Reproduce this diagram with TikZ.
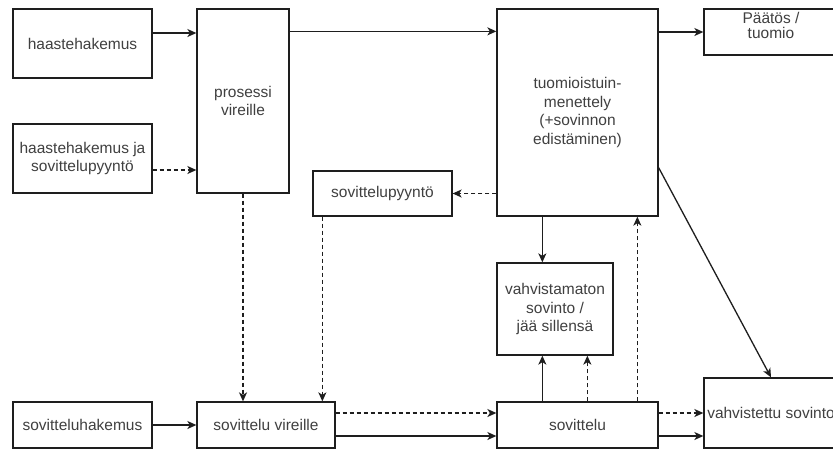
\documentclass[tikz,border=0pt]{standalone}
\usepackage{fontspec}
\setmainfont{Liberation Sans}
\usetikzlibrary{arrows.meta,calc}
\definecolor{txt}{HTML}{404040}
\definecolor{ln}{HTML}{1E1E1E}
\tikzset{
  box/.style={draw=ln, line width=1.3pt, rectangle, inner sep=0pt, align=center,
    text=txt, font=\fontsize{15.5}{18.5}\selectfont},
  conn/.style={draw=ln, line width=1.3pt, -{Stealth[length=9pt,width=8pt,inset=2.5pt]}},
  dconn/.style={conn, dash pattern=on 4pt off 3pt},
}
\begin{document}
\begin{tikzpicture}[x=1pt,y=-1pt]
\useasboundingbox (0,0) rectangle (833,448);
\clip (0,0) rectangle (833,448);
\fill[white] (0,0) rectangle (833,448);
% boxes
\node[box, minimum width=139pt, minimum height=69pt] (hh) at (82.5,43.5) {haastehakemus};
\node[box, minimum width=139pt, minimum height=69pt] (hs) at (82.5,158.5) {haastehakemus ja\\sovittelupyyntö};
\node[box, minimum width=92pt, minimum height=184pt] (pv) at (243,101) {prosessi\\vireille};
\node[box, minimum width=161pt, minimum height=207pt] (tm) at (577.5,112.5) {tuomioistuin-\\menettely\\(+sovinnon\\edistäminen)};
\node[box, minimum width=134pt, minimum height=46pt] (pt) at (771,32) {\parbox[c][40pt][t]{120pt}{\centering\fontsize{15.5}{15}\selectfont Päätös /\\ tuomio}};
\node[box, minimum width=139pt, minimum height=45pt] (sp) at (382.5,193.5) {sovittelupyyntö};
\node[box, minimum width=116pt, minimum height=92pt] (vm) at (555,309) {vahvistamaton\\sovinto /\\jää sillensä};
\node[box, minimum width=161pt, minimum height=46pt] (sv) at (577.5,425) {sovittelu};
\node[box, minimum width=134pt, minimum height=70pt] (vs) at (771,413) {vahvistettu sovinto};
\node[box, minimum width=139pt, minimum height=46pt] (shk) at (82.5,425) {sovitteluhakemus};
\node[box, minimum width=138pt, minimum height=46pt] (svv) at (266,425) {sovittelu vireille};
% connectors
\coordinate (a1) at ([yshift=10.5pt]hh.east);
\draw[conn] (a1) -- (a1 -| pv.west);
\coordinate (a2) at ([yshift=-11.5pt]hs.east);
\draw[dconn] (a2) -- (a2 -| pv.west);
\coordinate (a3) at ([yshift=-23pt]pv.north east);
\draw[conn] (a3) -- (a3 -| tm.west);
\draw[conn] (pt.west -| tm.east) -- (pt.west);
\draw[dconn] (sp.east -| tm.west) -- (sp.east);
\draw[dconn] (pv.south) -- (pv.south |- svv.north);
\coordinate (a7) at ([xshift=10pt]sp.south west);
\draw[dconn] (a7) -- (a7 |- svv.north);
\draw[conn] (shk.east) -- (svv.west);
\coordinate (a9) at ([yshift=12pt]svv.east);
\draw[dconn] (a9) -- (a9 -| sv.west);
\coordinate (a10) at ([yshift=-11pt]svv.east);
\draw[conn] (a10) -- (a10 -| sv.west);
\coordinate (a11) at ([xshift=46pt]tm.south west);
\draw[conn] (a11) -- (a11 |- vm.north);
\coordinate (a12) at ([xshift=46pt]sv.north west);
\draw[conn] (a12) -- (a12 |- vm.south);
\coordinate (a13) at ([xshift=91pt]sv.north west);
\draw[dconn] (a13) -- (a13 |- vm.south);
\coordinate (a14) at ([xshift=141pt]sv.north west);
\draw[dconn] (a14) -- (a14 |- tm.south);
\coordinate (a15) at ([yshift=12pt]sv.east);
\draw[dconn] (a15) -- (a15 -| vs.west);
\coordinate (a16) at ([yshift=-11pt]sv.east);
\draw[conn] (a16) -- (a16 -| vs.west);
\coordinate (a17) at ([yshift=49pt]tm.south east);
\draw[conn] (a17) -- (vs.north);
\end{tikzpicture}
\end{document}
